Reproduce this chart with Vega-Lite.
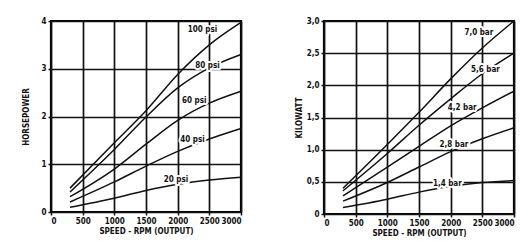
{
  "$schema": "https://vega.github.io/schema/vega-lite/v6.json",
  "padding": {"left": 21, "top": 15, "right": 2, "bottom": 2},
  "background": "white",
  "spacing": 48,
  "config": {
    "font": "DejaVu Sans Condensed, Liberation Sans, sans-serif",
    "view": {"stroke": "black", "strokeWidth": 2.2},
    "axis": {
      "labelFont": "DejaVu Sans Condensed, Liberation Sans, sans-serif", "labelFontWeight": "bold", "labelFontSize": 8, "labelColor": "#111",
      "titleFont": "DejaVu Sans Condensed, Liberation Sans, sans-serif", "titleFontWeight": "bold", "titleFontSize": 8, "titleColor": "#111",
      "grid": true, "gridColor": "#111", "gridWidth": 1.7, "gridOpacity": 1,
      "domain": false, "tickColor": "#111", "tickSize": 3, "tickWidth": 1.5, "labelPadding": 2
    }
  },
  "datasets": {
    "hp": [
      {"s": "100", "rpm": 300, "v": 0.50}, {"s": "100", "rpm": 1000, "v": 1.45}, {"s": "100", "rpm": 1500, "v": 2.12}, {"s": "100", "rpm": 2000, "v": 2.88}, {"s": "100", "rpm": 2500, "v": 3.5}, {"s": "100", "rpm": 3000, "v": 3.97},
      {"s": "80", "rpm": 300, "v": 0.42}, {"s": "80", "rpm": 1000, "v": 1.31}, {"s": "80", "rpm": 1500, "v": 1.99}, {"s": "80", "rpm": 2000, "v": 2.6}, {"s": "80", "rpm": 2500, "v": 3.02}, {"s": "80", "rpm": 3000, "v": 3.3},
      {"s": "60", "rpm": 300, "v": 0.32}, {"s": "60", "rpm": 1000, "v": 0.9}, {"s": "60", "rpm": 1500, "v": 1.42}, {"s": "60", "rpm": 2000, "v": 1.92}, {"s": "60", "rpm": 2500, "v": 2.28}, {"s": "60", "rpm": 3000, "v": 2.53},
      {"s": "40", "rpm": 300, "v": 0.21}, {"s": "40", "rpm": 1000, "v": 0.63}, {"s": "40", "rpm": 1500, "v": 0.96}, {"s": "40", "rpm": 2000, "v": 1.27}, {"s": "40", "rpm": 2500, "v": 1.53}, {"s": "40", "rpm": 3000, "v": 1.75},
      {"s": "20", "rpm": 300, "v": 0.10}, {"s": "20", "rpm": 1000, "v": 0.29}, {"s": "20", "rpm": 1500, "v": 0.45}, {"s": "20", "rpm": 2000, "v": 0.58}, {"s": "20", "rpm": 2500, "v": 0.67}, {"s": "20", "rpm": 3000, "v": 0.73}
    ],
    "hpLabels": [
      {"t": "100 psi", "rpm": 2393, "v": 3.82},
      {"t": "80 psi", "rpm": 2471, "v": 3.05},
      {"t": "60 psi", "rpm": 2262, "v": 2.32},
      {"t": "40 psi", "rpm": 2235, "v": 1.51},
      {"t": "20 psi", "rpm": 1974, "v": 0.67}
    ],
    "kw": [
      {"s": "7,0", "rpm": 300, "v": 0.40}, {"s": "7,0", "rpm": 1000, "v": 1.08}, {"s": "7,0", "rpm": 1500, "v": 1.58}, {"s": "7,0", "rpm": 2000, "v": 2.1}, {"s": "7,0", "rpm": 2500, "v": 2.58}, {"s": "7,0", "rpm": 3000, "v": 3.0},
      {"s": "5,6", "rpm": 300, "v": 0.36}, {"s": "5,6", "rpm": 1000, "v": 0.94}, {"s": "5,6", "rpm": 1500, "v": 1.38}, {"s": "5,6", "rpm": 2000, "v": 1.79}, {"s": "5,6", "rpm": 2500, "v": 2.18}, {"s": "5,6", "rpm": 3000, "v": 2.5},
      {"s": "4,2", "rpm": 300, "v": 0.28}, {"s": "4,2", "rpm": 1000, "v": 0.73}, {"s": "4,2", "rpm": 1500, "v": 1.05}, {"s": "4,2", "rpm": 2000, "v": 1.37}, {"s": "4,2", "rpm": 2500, "v": 1.65}, {"s": "4,2", "rpm": 3000, "v": 1.91},
      {"s": "2,8", "rpm": 300, "v": 0.2}, {"s": "2,8", "rpm": 1000, "v": 0.49}, {"s": "2,8", "rpm": 1500, "v": 0.73}, {"s": "2,8", "rpm": 2000, "v": 0.97}, {"s": "2,8", "rpm": 2500, "v": 1.17}, {"s": "2,8", "rpm": 3000, "v": 1.34},
      {"s": "1,4", "rpm": 300, "v": 0.10}, {"s": "1,4", "rpm": 1000, "v": 0.23}, {"s": "1,4", "rpm": 1500, "v": 0.34}, {"s": "1,4", "rpm": 2000, "v": 0.43}, {"s": "1,4", "rpm": 2500, "v": 0.49}, {"s": "1,4", "rpm": 3000, "v": 0.52}
    ],
    "kwLabels": [
      {"t": "7,0 bar", "rpm": 2445, "v": 2.81},
      {"t": "5,6 bar", "rpm": 2550, "v": 2.24},
      {"t": "4,2 bar", "rpm": 2183, "v": 1.65},
      {"t": "2,8 bar", "rpm": 2052, "v": 1.08},
      {"t": "1,4 bar", "rpm": 1948, "v": 0.46}
    ]
  },
  "hconcat": [
    {
      "width": 190, "height": 191,
      "encoding": {
        "x": {"field": "rpm", "type": "quantitative", "scale": {"domain": [0, 3000], "nice": false}, "axis": {"values": [0, 500, 1000, 1500, 2000, 2500, 3000], "format": "d", "title": "SPEED - RPM (OUTPUT)", "titlePadding": 2}},
        "y": {"field": "v", "type": "quantitative", "scale": {"domain": [0, 4], "nice": false}, "axis": {"values": [0, 1, 2, 3, 4], "title": "HORSEPOWER", "titlePadding": 10}}
      },
      "layer": [
        {
          "data": {"name": "hp"},
          "mark": {"type": "line", "color": "#111", "strokeWidth": 1.5, "interpolate": "monotone"},
          "encoding": {"detail": {"field": "s"}}
        },
        {
          "data": {"name": "hpLabels"},
          "mark": {"type": "text", "font": "DejaVu Sans Condensed, Liberation Sans, sans-serif", "fontWeight": "bold", "fontSize": 8, "stroke": "white", "strokeWidth": 4, "strokeJoin": "round", "fill": "white"},
          "encoding": {"text": {"field": "t"}}
        },
        {
          "data": {"name": "hpLabels"},
          "mark": {"type": "text", "font": "DejaVu Sans Condensed, Liberation Sans, sans-serif", "fontWeight": "bold", "fontSize": 8, "fill": "#111"},
          "encoding": {"text": {"field": "t"}}
        }
      ]
    },
    {
      "width": 190, "height": 193,
      "encoding": {
        "x": {"field": "rpm", "type": "quantitative", "scale": {"domain": [0, 3000], "nice": false}, "axis": {"values": [0, 500, 1000, 1500, 2000, 2500, 3000], "format": "d", "title": "SPEED - RPM (OUTPUT)", "titlePadding": 2}},
        "y": {"field": "v", "type": "quantitative", "scale": {"domain": [0, 3], "nice": false}, "axis": {"values": [0, 0.5, 1, 1.5, 2, 2.5, 3], "labelExpr": "datum.value == 0 ? '0' : replace(format(datum.value, '.1f'), '.', ',')", "title": "KILOWATT", "titlePadding": 3}}
      },
      "layer": [
        {
          "data": {"name": "kw"},
          "mark": {"type": "line", "color": "#111", "strokeWidth": 1.5, "interpolate": "monotone"},
          "encoding": {"detail": {"field": "s"}}
        },
        {
          "data": {"name": "kwLabels"},
          "mark": {"type": "text", "font": "DejaVu Sans Condensed, Liberation Sans, sans-serif", "fontWeight": "bold", "fontSize": 8, "stroke": "white", "strokeWidth": 4, "strokeJoin": "round", "fill": "white"},
          "encoding": {"text": {"field": "t"}}
        },
        {
          "data": {"name": "kwLabels"},
          "mark": {"type": "text", "font": "DejaVu Sans Condensed, Liberation Sans, sans-serif", "fontWeight": "bold", "fontSize": 8, "fill": "#111"},
          "encoding": {"text": {"field": "t"}}
        }
      ]
    }
  ]
}
